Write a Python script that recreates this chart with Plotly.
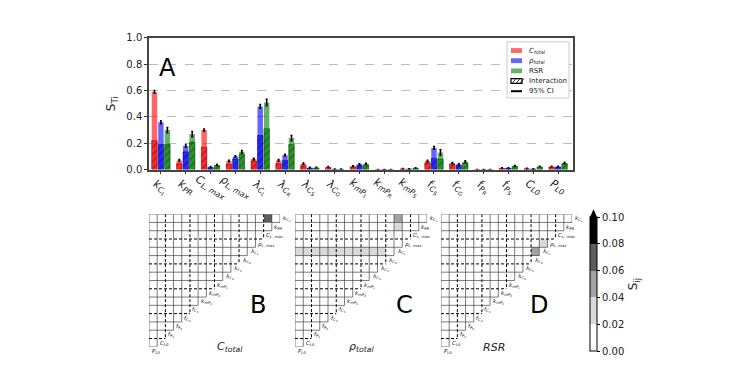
import plotly.graph_objects as go

W, H = 755, 377

# ---------------- data ----------------
params = [
    "k<sub>C<sub>L</sub></sub>", "k<sub>PR</sub>", "C<sub>L, max</sub>", "ρ<sub>L, max</sub>",
    "λ<sub>C<sub>L</sub></sub>", "λ<sub>C<sub>R</sub></sub>", "λ<sub>C<sub>S</sub></sub>",
    "λ<sub>C<sub>G</sub></sub>", "k<sub>mP<sub>L</sub></sub>", "k<sub>mP<sub>R</sub></sub>",
    "k<sub>mP<sub>S</sub></sub>", "f<sub>C<sub>S</sub></sub>", "f<sub>C<sub>G</sub></sub>",
    "f<sub>P<sub>R</sub></sub>", "f<sub>P<sub>S</sub></sub>", "C<sub>L0</sub>", "P<sub>L0</sub>",
]

ctotal_ST = [0.59, 0.07, 0.30, 0.065, 0.08, 0.07, 0.045, 0.02, 0.025, 0.0, 0.006, 0.065, 0.05, 0.0, 0.012, 0.008, 0.022]
ctotal_int = [0.22, 0.045, 0.17, 0.04, 0.065, 0.045, 0.03, 0.015, 0.02, 0.0, 0.004, 0.05, 0.04, 0.0, 0.01, 0.006, 0.02]
ctotal_ci = [0.01, 0.006, 0.008, 0.006, 0.006, 0.006, 0.005, 0.003, 0.004, 0.0, 0.002, 0.006, 0.005, 0.0, 0.003, 0.002, 0.003]

rho_ST = [0.36, 0.18, 0.02, 0.10, 0.48, 0.11, 0.015, 0.003, 0.04, 0.0, 0.005, 0.165, 0.04, 0.0, 0.012, 0.005, 0.022]
rho_int = [0.19, 0.135, 0.015, 0.08, 0.26, 0.07, 0.01, 0.002, 0.03, 0.0, 0.004, 0.085, 0.03, 0.0, 0.01, 0.004, 0.02]
rho_ci = [0.012, 0.01, 0.003, 0.006, 0.014, 0.007, 0.003, 0.001, 0.004, 0.0, 0.002, 0.01, 0.004, 0.0, 0.003, 0.002, 0.003]

rsr_ST = [0.30, 0.27, 0.035, 0.135, 0.51, 0.24, 0.015, 0.003, 0.045, 0.0, 0.012, 0.13, 0.06, 0.0, 0.028, 0.022, 0.05]
rsr_int = [0.19, 0.21, 0.03, 0.115, 0.31, 0.19, 0.012, 0.002, 0.035, 0.0, 0.01, 0.08, 0.05, 0.0, 0.025, 0.02, 0.045]
rsr_ci = [0.02, 0.02, 0.004, 0.01, 0.025, 0.02, 0.003, 0.001, 0.004, 0.0, 0.003, 0.02, 0.008, 0.0, 0.004, 0.003, 0.006]

# second-order indices (row parameter, column parameter, S_ij); all other pairs ~0
ctotal_pairs = [(0, 2, 0.07)]
rho_pairs = [(0, 4, 0.05), (1, 4, 0.03)] + [(4, j, 0.03) for j in range(6, 17)]
rsr_pairs = [(3, 4, 0.03), (4, 5, 0.05)]

cbar_ticks = [0.0, 0.02, 0.04, 0.06, 0.08, 0.10]

legend_labels = ["<i>C<sub>total</sub></i>", "<i>ρ<sub>total</sub></i>", "RSR", "Interaction", "95% CI"]

# ---------------- figure ----------------
fig = go.Figure()
FONT = "DejaVu Sans"
n = len(params)
xs = list(range(n))
bw = 0.22
series = [
    (ctotal_ST, ctotal_int, ctotal_ci, "rgba(255,0,0,0.6)", "rgba(110,0,0,0.85)", -0.26),
    (rho_ST, rho_int, rho_ci, "rgba(0,0,255,0.6)", "rgba(0,0,110,0.85)", 0.0),
    (rsr_ST, rsr_int, rsr_ci, "rgba(0,128,0,0.6)", "rgba(0,60,0,0.85)", 0.26),
]
for st, it, ci, col, dark, off in series:
    fig.add_trace(go.Bar(
        x=xs, y=st, width=bw, offset=off - bw / 2, showlegend=False,
        marker=dict(color=col, line=dict(width=0)),
        error_y=dict(type="data", array=ci, color="black", thickness=1.5, width=1),
        xaxis="x", yaxis="y"))
for st, it, ci, col, dark, off in series:
    fig.add_trace(go.Bar(
        x=xs, y=it, width=bw, offset=off - bw / 2, showlegend=False,
        marker=dict(color=col, line=dict(width=0.6, color=dark),
                    pattern=dict(shape="/", fgcolor=dark, size=5, solidity=0.3)),
        xaxis="x", yaxis="y"))

# bar-chart tick labels (rotated about their centre, like matplotlib)
for i, lab in enumerate(params):
    fig.add_annotation(x=i, xref="x", y=1 - 187 / H, yref="paper", text="<i>" + lab + "</i>",
                       textangle=30, showarrow=False, font=dict(size=11, color="#222", family=FONT))

# ---------------- manual legend ----------------
def px(xp):
    return xp / W


def py(yp):
    return 1 - yp / H


fig.add_shape(type="rect", xref="paper", yref="paper", x0=px(507), x1=px(569), y0=py(37), y1=py(95),
              fillcolor="white", line=dict(color="#ccc", width=1), layer="above")
leg_rows = [46, 56.5, 67, 77.5, 88]
leg_cols = ["rgba(255,0,0,0.6)", "rgba(0,0,255,0.6)", "rgba(0,128,0,0.6)"]
for k, yy in enumerate(leg_rows):
    if k < 3:
        fig.add_shape(type="rect", xref="paper", yref="paper", x0=px(511), x1=px(522),
                      y0=py(yy + 2.5), y1=py(yy - 2.5), fillcolor=leg_cols[k], line=dict(width=0),
                      layer="above")
    elif k == 3:
        fig.add_shape(type="rect", xref="paper", yref="paper", x0=px(511), x1=px(522),
                      y0=py(yy + 2.5), y1=py(yy - 2.5), fillcolor="white",
                      line=dict(color="black", width=1.2), layer="above")
        for d in (0, 4, 8):
            fig.add_shape(type="line", xref="paper", yref="paper", x0=px(512 + d), x1=px(516 + d),
                          y0=py(yy + 2.5), y1=py(yy - 2.5), line=dict(color="black", width=0.8),
                          layer="above")
    else:
        fig.add_shape(type="line", xref="paper", yref="paper", x0=px(511), x1=px(522),
                      y0=py(yy), y1=py(yy), line=dict(color="black", width=2), layer="above")
    fig.add_annotation(x=px(527), y=py(yy), xref="paper", yref="paper", text=legend_labels[k],
                       xanchor="left", yanchor="middle", showarrow=False,
                       font=dict(size=7, color="#222", family=FONT))

# ---------------- heatmaps ----------------
ncol = n - 1
colorscale = [
    [0.0, "#ffffff"], [0.2, "#ffffff"],
    [0.2, "#d9d9d9"], [0.4, "#d9d9d9"],
    [0.4, "#a3a3a3"], [0.6, "#a3a3a3"],
    [0.6, "#5e5e5e"], [0.8, "#5e5e5e"],
    [0.8, "#000000"], [1.0, "#000000"],
]

panels = [
    ("x2", "y2", ctotal_pairs, (149, 280), "B", "<i>C<sub>total</sub></i>"),
    ("x3", "y3", rho_pairs, (295, 427), "C", "<i>ρ<sub>total</sub></i>"),
    ("x4", "y4", rsr_pairs, (441, 572), "D", "<i>RSR</i>"),
]
top_px, bot_px = 215, 352
dash_b = {3, 6, 9, 12, 15}

for k, (xa, ya, pairs, (l, r), letter, sub) in enumerate(panels):
    z = [[(0.0 if c <= ncol - 1 - i else None) for c in range(ncol)] for i in range(ncol)]
    for (pi, pj, v) in pairs:
        z[pi][n - 1 - pj] = v
    fig.add_trace(go.Heatmap(
        z=z, x=list(range(ncol)), y=list(range(ncol)), zmin=0, zmax=0.1,
        colorscale=colorscale, showscale=(k == 2), hoverinfo="skip",
        colorbar=dict(x=590 / W, xanchor="left", y=1 - 218 / H, yanchor="top",
                      lenmode="pixels", len=134, thickness=7, xpad=0, ypad=0,
                      outlinecolor="black", outlinewidth=1,
                      tickvals=cbar_ticks, ticktext=[f"{t:.2f}" for t in cbar_ticks],
                      ticks="outside", ticklen=3, tickcolor="black",
                      tickfont=dict(size=10, color="#222", family=FONT),
                      title=dict(text="S<sub>ij</sub>", side="right",
                                 font=dict(size=12, color="#222", family=FONT))),
        xaxis=xa, yaxis=ya))
    # grid lines
    sx, sy, dx, dy = [], [], [], []
    for rr in range(ncol + 1):
        xe = ncol - 0.5 if rr == 0 else ncol + 0.5 - rr
        tx, ty = (dx, dy) if rr in dash_b else (sx, sy)
        tx += [-0.5, xe, None]
        ty += [rr - 0.5, rr - 0.5, None]
    for c in range(ncol + 1):
        ye = ncol - 0.5 if c == 0 else (n - 1 - c) + 0.5
        tx, ty = (dx, dy) if c in {2, 5, 8, 11, 14} else (sx, sy)
        tx += [c - 0.5, c - 0.5, None]
        ty += [-0.5, ye, None]
    fig.add_trace(go.Scatter(x=sx, y=sy, mode="lines", line=dict(color="#444", width=0.7),
                             hoverinfo="skip", showlegend=False, xaxis=xa, yaxis=ya))
    fig.add_trace(go.Scatter(x=dx, y=dy, mode="lines", line=dict(color="black", width=1, dash="3px,2px"),
                             hoverinfo="skip", showlegend=False, xaxis=xa, yaxis=ya))
    # diagonal labels (paper coordinates so the last one is not hidden)
    cw = (r - l) / ncol
    ch = (bot_px - top_px) / ncol
    for i, lab in enumerate(params):
        xd = ncol - i - 0.5
        fig.add_annotation(x=px(l + (xd + 0.5) * cw + 0.5), y=py(top_px + (i + 0.5) * ch + 1),
                           xref="paper", yref="paper", text="<i>" + lab + "</i>",
                           xanchor="left", yanchor="middle", showarrow=False,
                           font=dict(size=5.5, color="#222", family=FONT))
    fig.add_annotation(x=(l + r) / 2 / W + 0.058, y=1 - 325 / H, xref="paper", yref="paper",
                       text=letter, showarrow=False, font=dict(size=24, color="black", family=FONT))
    fig.add_annotation(x=(l + r) / 2 / W, y=1 - 362 / H, xref="paper", yref="paper",
                       text=sub, showarrow=False, font=dict(size=11, color="#222", family=FONT))
    ax = dict(domain=[l / W, r / W], range=[-0.5, ncol - 0.5], visible=False, fixedrange=True)
    ay = dict(domain=[1 - bot_px / H, 1 - top_px / H], range=[ncol - 0.5, -0.5], visible=False, fixedrange=True)
    fig.layout["xaxis" + xa[1:]] = dict(ax, anchor=ya)
    fig.layout["yaxis" + ya[1:]] = dict(ay, anchor=xa)

# colorbar extension arrow
fig.add_shape(type="path", xref="paper", yref="paper",
              path=f"M {590 / W},{1 - 218 / H} L {597 / W},{1 - 218 / H} L {593.5 / W},{1 - 210 / H} Z",
              fillcolor="black", line=dict(width=0))

fig.add_annotation(x=157 / W, y=1 - 47 / H, xref="paper", yref="paper", text="A", xanchor="left",
                   showarrow=False, font=dict(size=24, color="black", family=FONT))

fig.update_layout(
    width=W, height=H, margin=dict(l=0, r=0, t=0, b=0),
    paper_bgcolor="white", plot_bgcolor="white",
    font=dict(family=FONT, color="#222"),
    barmode="overlay", showlegend=False,
    xaxis=dict(domain=[149 / W, 573 / W], range=[-0.48, 16.6], showticklabels=False,
               tickvals=xs, ticks="outside", ticklen=3, tickcolor="#333",
               showline=True, mirror=True, linecolor="#444", linewidth=1.5,
               showgrid=False, zeroline=False, anchor="y", fixedrange=True),
    yaxis=dict(domain=[1 - 169 / H, 1 - 33 / H], range=[0, 1.0],
               tickvals=[0, 0.2, 0.4, 0.6, 0.8, 1.0], ticktext=["0.0", "0.2", "0.4", "0.6", "0.8", "1.0"],
               ticks="outside", ticklen=3, tickcolor="#333", tickfont=dict(size=10, color="#222"),
               showline=True, mirror=True, linecolor="#444", linewidth=1.5,
               showgrid=True, gridcolor="#bbb", griddash="dash", gridwidth=1,
               zeroline=False, anchor="x", fixedrange=True,
               title=dict(text="S<sub>Ti</sub>", font=dict(size=12, color="#222"), standoff=8)),
)

fig.write_html("out.html")
